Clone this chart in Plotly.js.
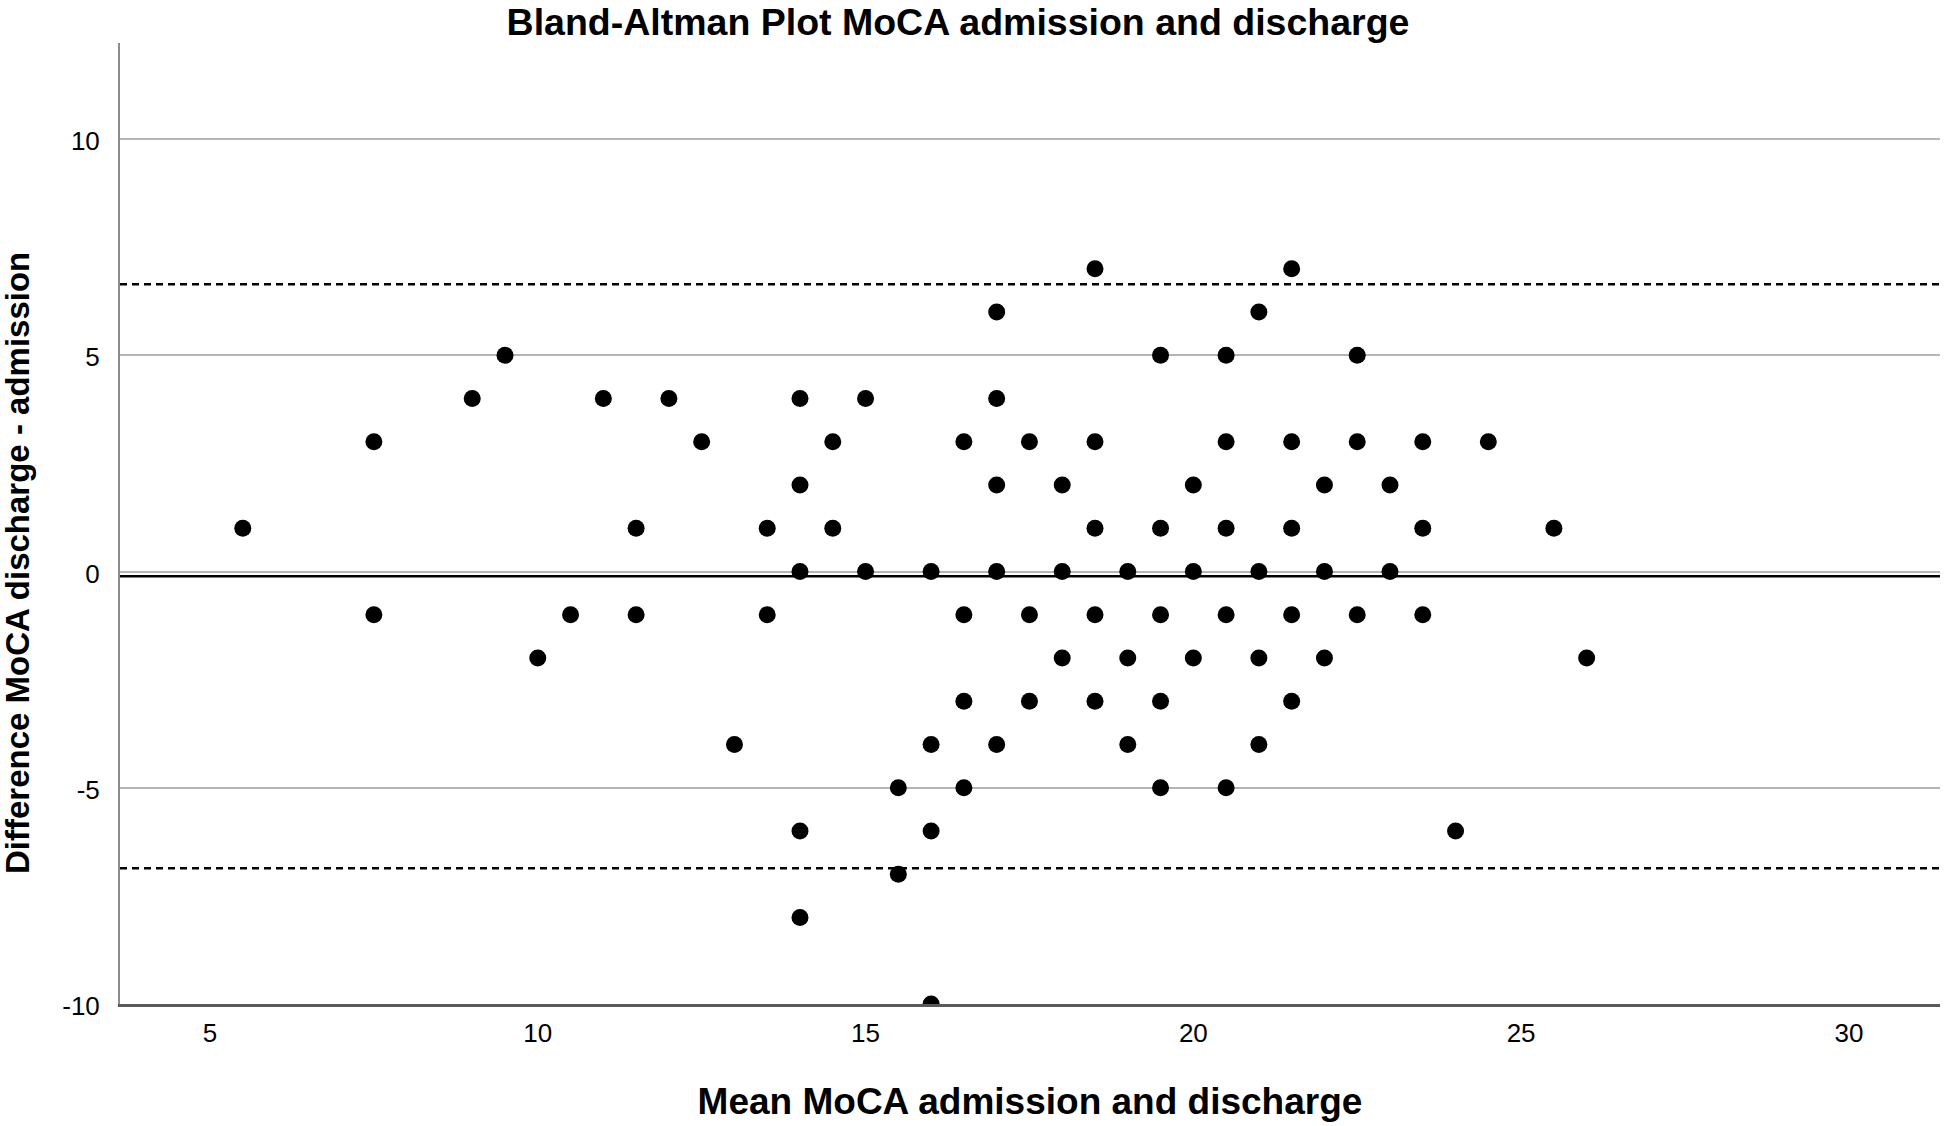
<!DOCTYPE html>
<html>
<head>
<meta charset="utf-8">
<script src="https://cdn.plot.ly/plotly-3.0.1.min.js"></script>
<style>
  html, body { margin: 0; padding: 0; background: #fff; }
  #chart { width: 1944px; height: 1126px; }
</style>
</head>
<body>
<div id="chart"></div>
<script>
// Bland-Altman points: mean of the two MoCA scores and discharge - admission difference
// one line per difference level
const meanScore = [
  18.5, 21.5,
  17, 21,
  9.5, 19.5, 20.5, 22.5,
  9, 11, 12, 14, 15, 17,
  7.5, 12.5, 14.5, 16.5, 17.5, 18.5, 20.5, 21.5, 22.5, 23.5, 24.5,
  14, 17, 18, 20, 22, 23,
  5.5, 11.5, 13.5, 14.5, 18.5, 19.5, 20.5, 21.5, 23.5, 25.5,
  14, 15, 16, 17, 18, 19, 20, 21, 22, 23,
  7.5, 10.5, 11.5, 13.5, 16.5, 17.5, 18.5, 19.5, 20.5, 21.5, 22.5, 23.5,
  10, 18, 19, 20, 21, 22, 26,
  16.5, 17.5, 18.5, 19.5, 21.5,
  13, 16, 17, 19, 21,
  15.5, 16.5, 19.5, 20.5,
  14, 16, 24,
  15.5,
  14,
  16
];
const diffScore = [
  7, 7,
  6, 6,
  5, 5, 5, 5,
  4, 4, 4, 4, 4, 4,
  3, 3, 3, 3, 3, 3, 3, 3, 3, 3, 3,
  2, 2, 2, 2, 2, 2,
  1, 1, 1, 1, 1, 1, 1, 1, 1, 1,
  0, 0, 0, 0, 0, 0, 0, 0, 0, 0,
  -1, -1, -1, -1, -1, -1, -1, -1, -1, -1, -1, -1,
  -2, -2, -2, -2, -2, -2, -2,
  -3, -3, -3, -3, -3,
  -4, -4, -4, -4, -4,
  -5, -5, -5, -5,
  -6, -6, -6,
  -7,
  -8,
  -10
];

// mean difference and limits of agreement
const meanDiff = -0.11;
const upperLimit = 6.64;
const lowerLimit = -6.86;

const xTicks = [5, 10, 15, 20, 25, 30];
const yTicks = [-10, -5, 0, 5, 10];
const yTickText = ['-10', '-5', '0', '5', '10'];

const points = {
  x: meanScore,
  y: diffScore,
  type: 'scatter',
  mode: 'markers',
  marker: { color: '#000', size: 17, line: { width: 0 } },
  hoverinfo: 'x+y'
};

function hLine(yVal, dash, width) {
  return {
    type: 'line', xref: 'paper', x0: 0, x1: 1,
    yref: 'y', y0: yVal, y1: yVal,
    layer: 'between',
    line: { color: '#000', width: width, dash: dash }
  };
}

const layout = {
  width: 1944,
  height: 1126,
  margin: { l: 120, r: 4, t: 43, b: 122 },
  paper_bgcolor: '#fff',
  plot_bgcolor: '#fff',
  font: { family: 'Liberation Sans, Arial, sans-serif', color: '#000' },
  showlegend: false,
  title: {
    text: 'Bland-Altman Plot MoCA admission and discharge',
    font: { size: 37.5, weight: 'bold' },
    x: 0.4928, xref: 'container', xanchor: 'center',
    y: 0.9805, yref: 'container', yanchor: 'middle'
  },
  xaxis: {
    range: [3.627, 31.39],
    tickvals: xTicks,
    showgrid: false,
    zeroline: false,
    showline: true,
    linecolor: '#595959',
    linewidth: 2.5,
    ticks: '',
    tickfont: { size: 26 },
    ticklabelstandoff: 4,
    title: {
      text: 'Mean MoCA admission and discharge',
      font: { size: 37, weight: 'bold' },
      standoff: 42
    }
  },
  yaxis: {
    range: [-10, 12.22],
    tickvals: yTicks,
    ticktext: yTickText,
    showgrid: true,
    gridcolor: '#b5b5b5',
    gridwidth: 2,
    zeroline: false,
    showline: true,
    linecolor: '#8c8c8c',
    linewidth: 2,
    ticks: '',
    tickfont: { size: 26 },
    ticklabelstandoff: 13,
    ticklabelshift: 2
  },
  shapes: [
    hLine(meanDiff, 'solid', 2.5),
    hLine(upperLimit, '7px,5px', 2.5),
    hLine(lowerLimit, '7px,5px', 2.5)
  ],
  annotations: [{
    text: 'Difference MoCA discharge - admission',
    textangle: -90,
    font: { size: 33, weight: 'bold' },
    xref: 'paper', x: -0.056, xanchor: 'center',
    yref: 'paper', y: 0.459, yanchor: 'middle',
    showarrow: false
  }]
};

Plotly.newPlot('chart', [points], layout, { displayModeBar: false, staticPlot: true });
</script>
</body>
</html>
